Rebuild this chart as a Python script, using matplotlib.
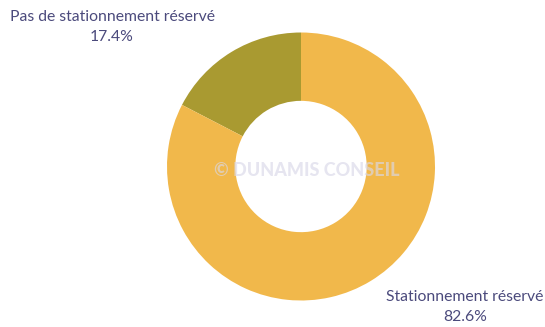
import matplotlib
matplotlib.use("Agg")
import matplotlib.pyplot as plt

categories = ["Pas de stationnement réservé", "Stationnement réservé"]
values = [17.4, 82.6]
colors = ["#A99A31", "#F1B84B"]
text_color = "#4B4A7C"

fig = plt.figure(figsize=(5.45, 3.27), dpi=100)
ax = fig.add_axes([0, 0, 1, 1])
ax.set_xlim(0, 545)
ax.set_ylim(0, 327)
ax.set_aspect("equal")
ax.axis("off")

cx, cy, r = 301, 327 - 166.5, 134
ax.pie(values, colors=colors, startangle=90, counterclock=True,
       center=(cx, cy), radius=r,
       wedgeprops=dict(width=r * 0.51, linewidth=0))
ax.set_xlim(0, 545)
ax.set_ylim(0, 327)

font = "Lato"
size = 11.3
ax.text(112, 327 - 17, categories[0], ha="center", va="center",
        fontsize=size, color=text_color, family=font)
ax.text(112, 327 - 37, f"{values[0]}%", ha="center", va="center",
        fontsize=size, color=text_color, family=font)
ax.text(465, 327 - 297, categories[1], ha="center", va="center",
        fontsize=size, color=text_color, family=font)
ax.text(465, 327 - 317, f"{values[1]}%", ha="center", va="center",
        fontsize=size, color=text_color, family=font)

ax.text(307, 327 - 170, "© DUNAMIS CONSEIL", ha="center", va="center",
        fontsize=13, fontweight="black", color="#D9D8E8", family=font,
        alpha=0.65)

fig.savefig("out.png", dpi=100)
